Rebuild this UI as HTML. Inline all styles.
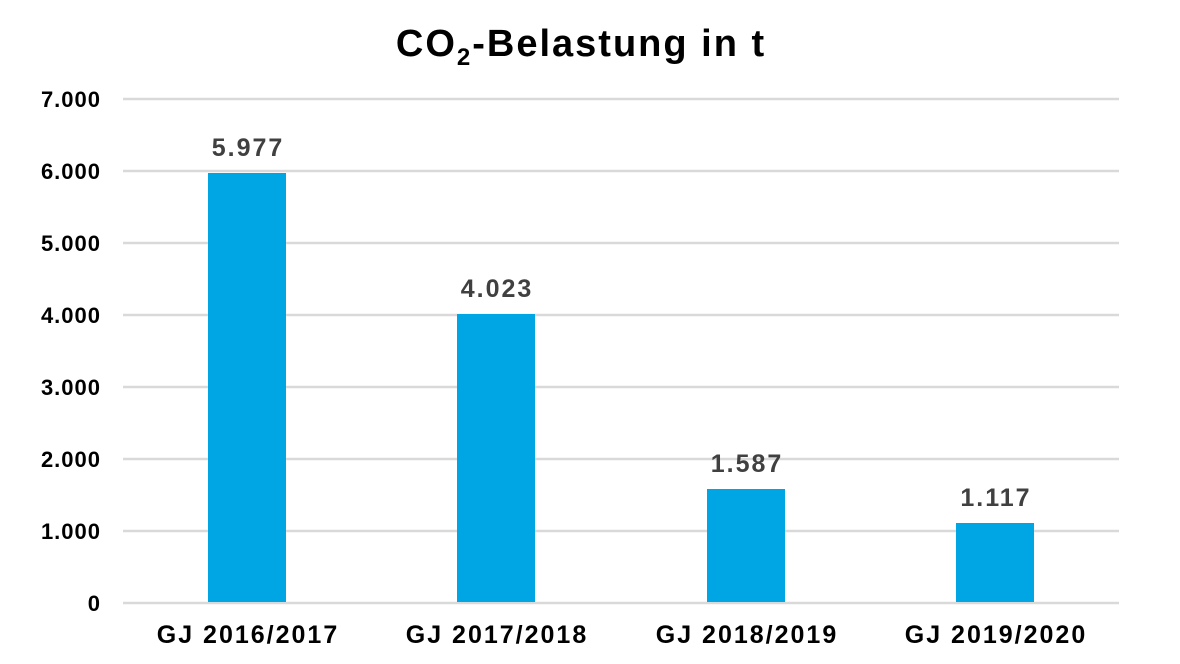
<!DOCTYPE html>
<html><head><meta charset="utf-8"><style>
html,body{margin:0;padding:0;background:#fff;}
svg{display:block;font-family:"Liberation Sans","DejaVu Sans",sans-serif;font-weight:bold;}
</style></head><body>
<svg width="1180" height="664" viewBox="0 0 1180 664" xmlns="http://www.w3.org/2000/svg">
<text x="581" y="56" text-anchor="middle" font-size="38" letter-spacing="2" fill="#000">CO<tspan font-size="24" dy="9">2</tspan><tspan dy="-9">-Belastung in t</tspan></text>
<g stroke="#d9d9d9" stroke-width="2.5">
<line x1="123" x2="1119" y1="99" y2="99"/>
<line x1="123" x2="1119" y1="171" y2="171"/>
<line x1="123" x2="1119" y1="243" y2="243"/>
<line x1="123" x2="1119" y1="315" y2="315"/>
<line x1="123" x2="1119" y1="387" y2="387"/>
<line x1="123" x2="1119" y1="459" y2="459"/>
<line x1="123" x2="1119" y1="531" y2="531"/>
<line x1="123" x2="1119" y1="603" y2="603"/>
</g>
<g font-size="22" fill="#000" text-anchor="end" letter-spacing="1">
<text x="101" y="107">7.000</text>
<text x="101" y="179">6.000</text>
<text x="101" y="251">5.000</text>
<text x="101" y="323">4.000</text>
<text x="101" y="395">3.000</text>
<text x="101" y="467">2.000</text>
<text x="101" y="539">1.000</text>
<text x="101" y="611">0</text>
</g>
<g fill="#00a6e3">
<rect x="208" y="173" width="78" height="429"/>
<rect x="457" y="314" width="78" height="288"/>
<rect x="707" y="489" width="78" height="113"/>
<rect x="956" y="523" width="78" height="79"/>
</g>
<g font-size="25" fill="#404040" text-anchor="middle" letter-spacing="2">
<text x="248" y="156">5.977</text>
<text x="497" y="297">4.023</text>
<text x="747" y="472">1.587</text>
<text x="996" y="506">1.117</text>
</g>
<g font-size="25" fill="#000" text-anchor="middle" letter-spacing="2">
<text x="248" y="643">GJ 2016/2017</text>
<text x="497" y="643">GJ 2017/2018</text>
<text x="747" y="643">GJ 2018/2019</text>
<text x="996" y="643">GJ 2019/2020</text>
</g>
</svg>
</body></html>
